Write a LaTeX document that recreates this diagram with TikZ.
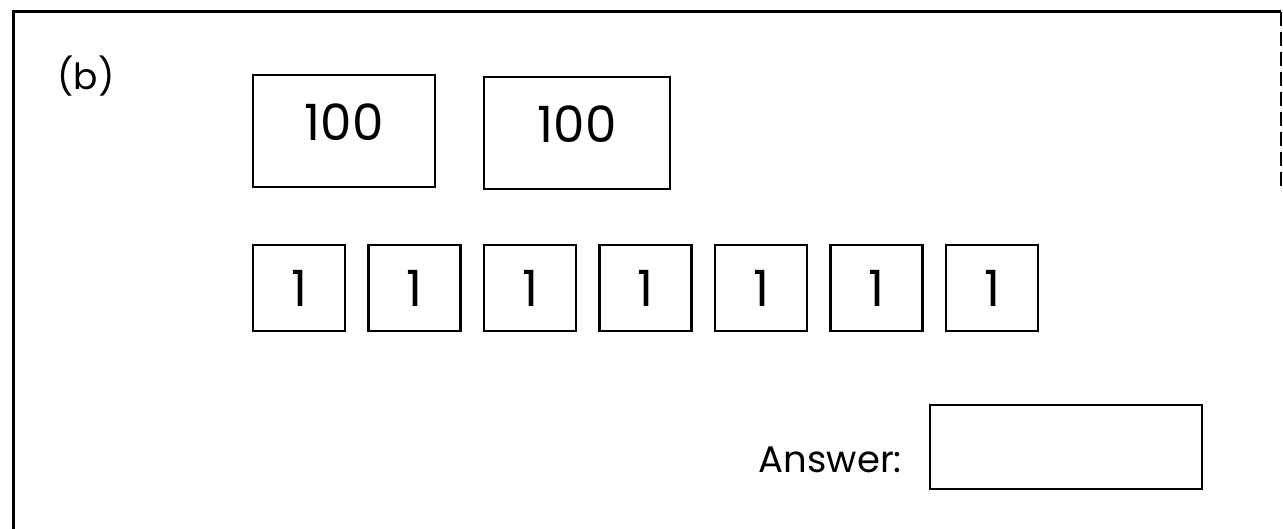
\documentclass[tikz,border=0pt]{standalone}
\usepackage{fontspec}
\setmainfont{Poppins}
\begin{document}
\begin{tikzpicture}[x=1pt,y=-1pt,
  hbox/.style={draw, line width=2.8pt, minimum width=182pt, minimum height=112pt, inner sep=0pt, font=\fontsize{50}{60}\selectfont},
  obox/.style={draw, line width=2.8pt, minimum width=92pt, minimum height=86pt, inner sep=0pt, font=\fontsize{50}{60}\selectfont},
  abox/.style={draw, line width=2.8pt, minimum width=272pt, minimum height=84pt, inner sep=0pt},
  lbl/.style={inner sep=0pt, anchor=base}]
\useasboundingbox (0,0) rectangle (1283,529);
% frame
\draw[line width=3pt] (13,529) -- (13,12) -- (1281,12);
\draw[line width=1.2pt, dash pattern=on 14pt off 6pt] (1281,12) -- (1281,190);
% label
\node[lbl, font=\fontsize{36}{42}\selectfont] (b) at (86,90) {(b)};
% hundreds
\node[hbox] (h1) at (344,131) {\raisebox{17pt}{100}};
\node[hbox, minimum width=186pt] (h2) at (577,133) {\raisebox{17pt}{100}};
% ones
\foreach \i in {1,...,7}{
  \node[obox] (o\i) at ({299+115.5*(\i-1)},288) {1};
}
% answer
\node[abox] (ans) at (1066,447) {};
\node[lbl, anchor=base east, font=\fontsize{37}{44}\selectfont] (at) at (902,472) {Answer:};
\end{tikzpicture}
\end{document}
